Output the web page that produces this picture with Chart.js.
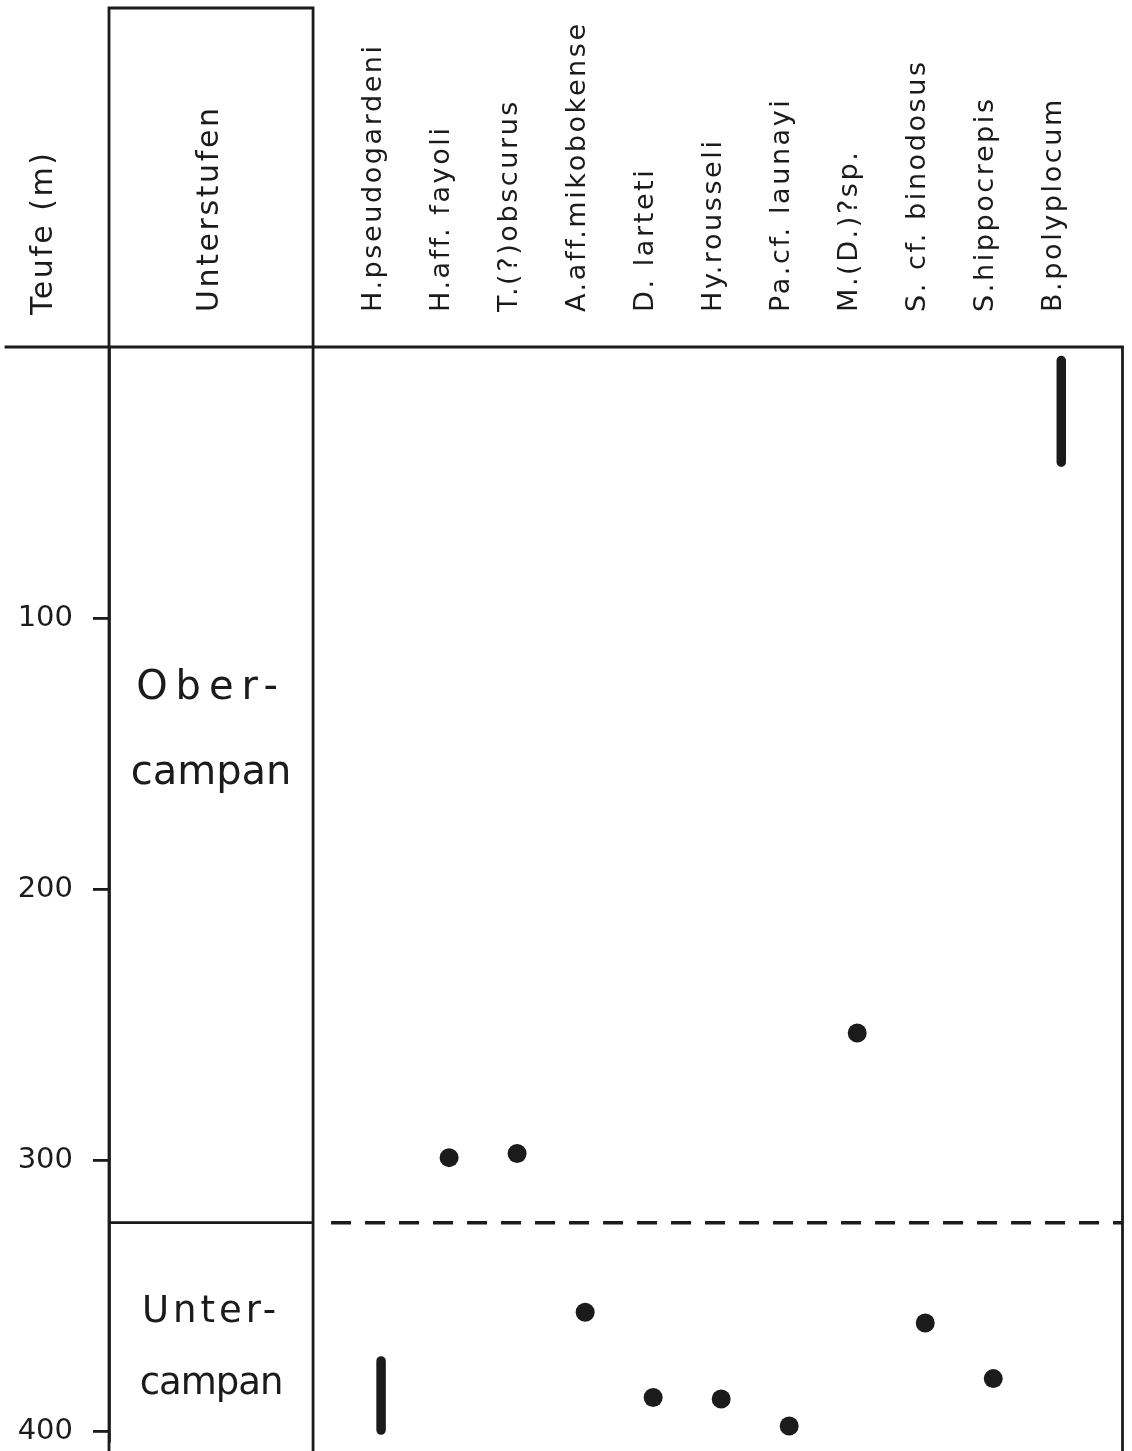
<!DOCTYPE html>
<html>
<head>
<meta charset="utf-8">
<title>Teufe / Unterstufen – Ammonitenfunde</title>
<script src="https://cdn.jsdelivr.net/npm/chart.js@4"></script>
<style>
    html, body { margin: 0; padding: 0; background: #fff; overflow: hidden; }
    #wrap { width: 1132px; height: 1451px; }
</style>
</head>
<body>
<div id="wrap"><canvas id="chart-teufe"></canvas></div>
<script>
// Taxa columns, left to right
const taxa = [
    'H.pseudogardeni', 'H.aff. fayoli', 'T.(?)obscurus', 'A.aff.mikobokense', 'D. larteti',
    'Hy.rousseli', 'Pa.cf. launayi', 'M.(D.)?sp.', 'S. cf. binodosus', 'S.hippocrepis', 'B.polyplocum',
];
// single finds, depth in m (null = none)
const findDepth = [null, 299, 297.5, 356, 387.5, 388, 398, 253, 360, 380.5, null];
// ranges, depth in m (null = none)
const rangeTop = [374, null, null, null, null, null, null, null, null, null, 5];
const rangeBottom = [399.5, null, null, null, null, null, null, null, null, null, 42.5];

const depthTicks = [100, 200, 300, 400];
const depthMax = 403.7;
const stageNames = [['Ober-', 'campan'], ['Unter-', 'campan']];
const stageBoundary = 323;

const INK = '#1b1b1b';
const FONT = '"DejaVu Sans", "Noto Sans", sans-serif';
Chart.defaults.font.family = FONT;
Chart.defaults.color = INK;

// header column "Unterstufen" spans x = -3..0, taxa sit at 1..11
const HEADER_X = -1.35;

const points = [];
findDepth.forEach((d, i) => { if (d != null) points.push({ x: i + 1, y: d }); });

const rangeSets = [];
rangeTop.forEach((top, i) => {
    if (top == null) return;
    rangeSets.push({
        type: 'line',
        showLine: true,
        data: [{ x: i + 1, y: top }, { x: i + 1, y: rangeBottom[i] }],
        borderColor: INK,
        borderWidth: 9.5,
        borderCapStyle: 'round',
        pointRadius: 0,
    });
});

const noEdgePadding = scale => {
    scale.paddingTop = 0;
    scale.paddingBottom = 0;
    scale.paddingLeft = 0;
    scale.paddingRight = 0;
};

// frame, boundary, stage names and the depth title
const framePlugin = {
    id: 'frame',
    beforeDraw(chart) {
        chart.ctx.letterSpacing = '2.6px';
    },
    afterDatasetsDraw(chart) {
        chart.ctx.letterSpacing = '0px';
    },
    afterDraw(chart) {
        const { ctx, chartArea, scales } = chart;
        const xs = scales.x, ys = scales.y;
        const top = ys.getPixelForValue(0);
        const bottom = chart.height + 2;
        const boxL = chartArea.left;
        const boxR = xs.getPixelForValue(0);
        const right = chartArea.right;
        const yb = ys.getPixelForValue(stageBoundary);

        ctx.save();
        ctx.strokeStyle = INK;
        ctx.lineWidth = 2.8;
        ctx.lineCap = 'square';
        ctx.beginPath();
        ctx.moveTo(6, top); ctx.lineTo(right, top);
        ctx.moveTo(boxL, 8); ctx.lineTo(boxR, 8);
        ctx.moveTo(boxL, 8); ctx.lineTo(boxL, bottom);
        ctx.moveTo(boxR, 8); ctx.lineTo(boxR, bottom);
        ctx.moveTo(right, top); ctx.lineTo(right, bottom);
        ctx.moveTo(boxL, yb); ctx.lineTo(boxR, yb);
        ctx.stroke();

        ctx.lineWidth = 3.5;
        ctx.lineCap = 'butt';
        ctx.setLineDash([20, 14]);
        ctx.beginPath();
        ctx.moveTo(boxR + 18, yb); ctx.lineTo(right, yb);
        ctx.stroke();
        ctx.setLineDash([]);

        // stage names
        ctx.fillStyle = INK;
        ctx.textAlign = 'center';
        ctx.textBaseline = 'middle';
        const cx = (boxL + boxR) / 2;
        const stageLayout = [
            { depth: 141.8, gap: 85, size: 40, spacing: ['8px', '0px'] },
            { depth: 369.4, gap: 72, size: 37, spacing: ['4px', '-1px'] },
        ];
        stageNames.forEach((lines, s) => {
            const L = stageLayout[s];
            const yc = ys.getPixelForValue(L.depth);
            ctx.font = `${L.size}px ${FONT}`;
            lines.forEach((txt, k) => {
                ctx.letterSpacing = L.spacing[k];
                ctx.fillText(txt, cx, yc + (k - (lines.length - 1) / 2) * L.gap);
            });
        });

        // depth title
        ctx.letterSpacing = '2.5px';
        ctx.font = `30px ${FONT}`;
        ctx.translate(44, 315);
        ctx.rotate(-Math.PI / 2);
        ctx.textAlign = 'left';
        ctx.fillText('Teufe (m)', 0, 0);
        ctx.restore();
        ctx.letterSpacing = '0px';
    },
};

new Chart(document.getElementById('chart-teufe'), {
    type: 'scatter',
    data: {
        datasets: [
            {
                data: points,
                backgroundColor: INK,
                borderWidth: 0,
                pointRadius: 9.5,
                pointHoverRadius: 9.5,
            },
            ...rangeSets,
        ],
    },
    options: {
        responsive: true,
        maintainAspectRatio: false,
        animation: false,
        events: [],
        layout: { padding: { top: 0, right: 8, bottom: 0, left: 0 } },
        scales: {
            x: {
                type: 'linear',
                position: 'top',
                min: -3,
                max: 11.9,
                afterBuildTicks: scale => {
                    scale.ticks = [{ value: HEADER_X }, ...taxa.map((t, i) => ({ value: i + 1 }))];
                },
                afterFit: scale => { scale.height = 347; noEdgePadding(scale); },
                grid: { display: false, drawTicks: false },
                border: { display: false },
                ticks: {
                    autoSkip: false,
                    minRotation: 90,
                    maxRotation: 90,
                    padding: 35,
                    labelOffset: 25,
                    color: INK,
                    font: ctx => ({ size: ctx.tick && ctx.tick.value < 0 ? 30 : 27 }),
                    callback: v => (v < 0 ? 'Unterstufen' : taxa[Math.round(v) - 1]),
                },
            },
            y: {
                type: 'linear',
                position: 'left',
                reverse: true,
                min: 0,
                max: depthMax,
                afterBuildTicks: scale => { scale.ticks = depthTicks.map(v => ({ value: v })); },
                afterFit: scale => { scale.width = 109; noEdgePadding(scale); },
                grid: { drawOnChartArea: false, drawTicks: true, tickLength: 16, color: INK, lineWidth: 2.8 },
                border: { display: true, color: INK, width: 2.8 },
                ticks: { z: 1, padding: 20, color: INK, font: { size: 29 } },
            },
        },
        plugins: {
            legend: { display: false },
            tooltip: { enabled: false },
        },
    },
    plugins: [framePlugin],
});
</script>
</body>
</html>
